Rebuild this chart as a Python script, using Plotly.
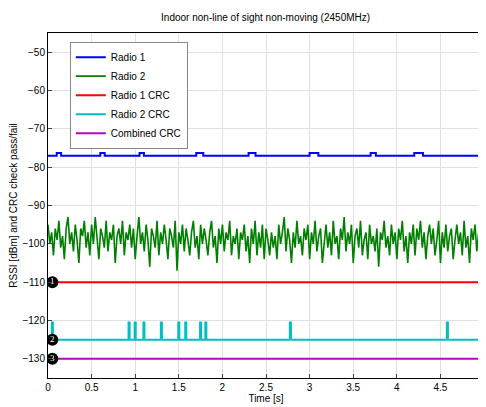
import plotly.graph_objects as go

t_end = 4.98
r1_t = [0, 0.1, 0.1, 0.15, 0.15, 0.6, 0.6, 0.65, 0.65, 1.05, 1.05, 1.1, 1.1, 1.7, 1.7, 1.78, 1.78, 2.3, 2.3, 2.38, 2.38, 3.0, 3.0, 3.1, 3.1, 3.7, 3.7, 3.76, 3.76, 4.2, 4.2, 4.3, 4.3, 4.98]
r1_v = [-77, -77, -76.3, -76.3, -77, -77, -76.3, -76.3, -77, -77, -76.3, -76.3, -77, -77, -76.3, -76.3, -77, -77, -76.3, -76.3, -77, -77, -76.3, -76.3, -77, -77, -76.3, -76.3, -77, -77, -76.3, -76.3, -77, -77]

r2_v = [-95, -100, -97, -103, -96, -99, -94, -101, -98, -104, -96, -93, -100, -97, -102, -95, -99, -105, -96, -98,
        -94, -101, -97, -103, -95, -100, -93, -99, -104, -96, -98, -101, -94, -102, -97, -99, -95, -105, -98, -96,
        -100, -94, -103, -97, -99, -95, -101, -96, -104, -98, -93, -100, -97, -102, -95, -99, -106, -96, -98, -101,
        -94, -103, -97, -100, -95, -99, -104, -96, -98, -101, -94, -107, -97, -100, -95, -102, -96, -99, -103, -97,
        -94, -101, -98, -104, -95, -100, -96, -99, -103, -97, -94, -101, -98, -105, -96, -100, -95, -102, -97, -99,
        -94, -103, -98, -100, -96, -104, -97, -99, -95, -102, -98, -105, -96, -100, -94, -103, -97, -101, -95, -104,
        -96, -99, -103, -97, -101, -98, -104, -95, -100, -97, -93, -102, -96, -99, -105, -97, -101, -94, -100, -98,
        -103, -96, -99, -95, -104, -97, -100, -94, -102, -98, -96, -105, -99, -95, -101, -97, -103, -94, -100, -98,
        -104, -96, -99, -93, -102, -97, -100, -95, -105, -98, -96, -101, -94, -103, -99, -97, -104, -95, -100, -98,
        -102, -96, -106, -97, -99, -94, -101, -98, -103, -95, -100, -97, -104, -96, -99, -94, -102, -98, -105, -97,
        -100, -95, -103, -96, -99, -94, -101, -97, -104, -98, -95, -100, -96, -103, -99, -94, -105, -97, -101, -95,
        -102, -98, -96, -104, -99, -95, -100, -97, -103, -94, -101, -98, -105, -96, -99, -95, -102, -97, -100, -96]
r2_t = [i * t_end / (len(r2_v) - 1) for i in range(len(r2_v))]

spikes = [0.05, 0.93, 1.0, 1.1, 1.3, 1.5, 1.58, 1.75, 1.81, 2.78, 4.58]
c2_t, c2_v = [0], [-125]
for s in spikes:
    c2_t += [s - 0.006, s - 0.006, s + 0.006, s + 0.006]
    c2_v += [-125, -120.5, -120.5, -125]
c2_t.append(t_end); c2_v.append(-125)

fig = go.Figure()
fig.add_trace(go.Scatter(x=r1_t, y=r1_v, mode="lines", name="Radio 1", line=dict(color="#0000ff", width=2)))
fig.add_trace(go.Scatter(x=r2_t, y=r2_v, mode="lines", name="Radio 2", line=dict(color="#007f00", width=1.6)))
fig.add_trace(go.Scatter(x=[0, t_end], y=[-110, -110], mode="lines", name="Radio 1 CRC", line=dict(color="#ff0000", width=2)))
fig.add_trace(go.Scatter(x=c2_t, y=c2_v, mode="lines", name="Radio 2 CRC", line=dict(color="#00bfbf", width=2)))
fig.add_trace(go.Scatter(x=[0, t_end], y=[-130, -130], mode="lines", name="Combined CRC", line=dict(color="#bf00bf", width=2)))
fig.add_trace(go.Scatter(x=[0.05, 0.05, 0.05], y=[-110, -125, -130], mode="markers+text", showlegend=False,
                         marker=dict(color="black", size=12), text=["1", "2", "3"],
                         textfont=dict(color="white", size=9, family="Arial Black"), textposition="middle center"))

fig.update_layout(
    width=486, height=407, margin=dict(l=40, r=10, t=25, b=37, autoexpand=False),
    paper_bgcolor="white", plot_bgcolor="white",
    font=dict(family="Liberation Sans, Arial", size=10, color="black"),
    title=dict(text="Indoor non-line of sight non-moving (2450MHz)", x=0.53, y=0.985, font=dict(size=10)),
    legend=dict(x=0.05, y=0.975, bgcolor="white", bordercolor="#888", borderwidth=1, font=dict(size=10),
                tracegroupgap=0, itemwidth=30),
)
fig.update_xaxes(range=[0, 5], dtick=0.5, showgrid=True, gridcolor="#e0e0e0", showline=True, linecolor="black",
                 mirror=True, ticks="inside", ticklen=4, zeroline=False, automargin=False,
                 title=dict(text="Time [s]", standoff=2, font=dict(size=10)))
fig.update_yaxes(range=[-135, -45], dtick=10, showgrid=True, gridcolor="#e0e0e0", showline=True, linecolor="black",
                 mirror=True, ticks="inside", ticklen=4, zeroline=False, automargin=False,
                 title=dict(text="RSSI [dBm] and CRC check pass/fail", standoff=2, font=dict(size=10)))
fig.write_html("out.html")
